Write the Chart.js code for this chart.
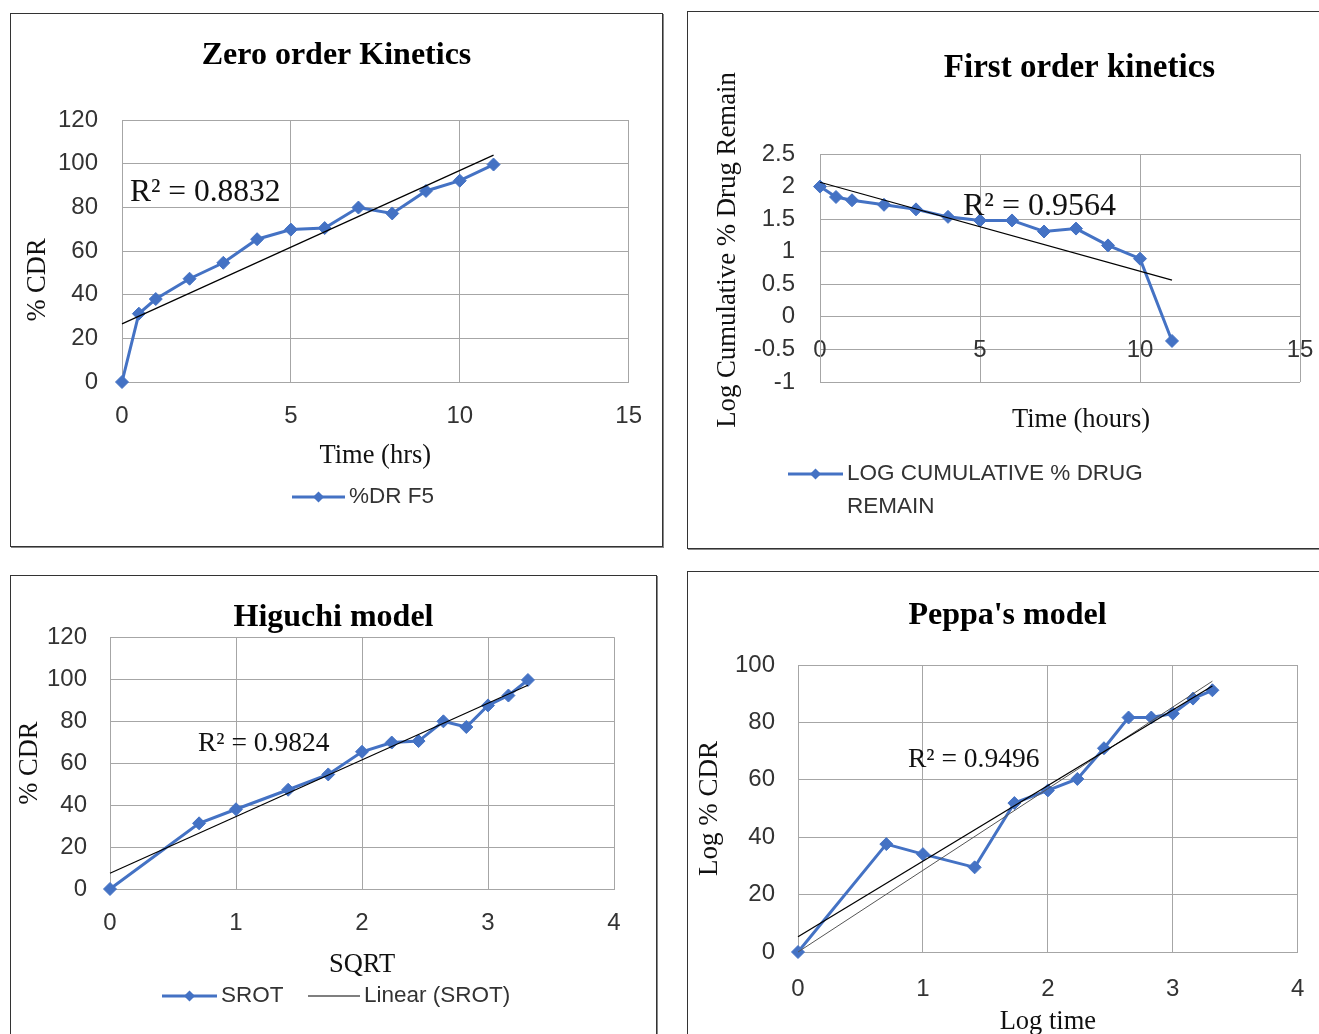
<!DOCTYPE html>
<html>
<head>
<meta charset="utf-8">
<title>Release kinetics F5</title>
<script src="https://cdn.jsdelivr.net/npm/chart.js@4.4.1/dist/chart.umd.min.js"></script>
<style>
  html, body { margin: 0; padding: 0; background: #fff; overflow: hidden; }
  body { position: relative; width: 1319px; height: 1034px; }
  .box { position: absolute; box-sizing: border-box; border: 1px solid #333; box-shadow: 1px 1px 0 #888; }
  canvas { position: absolute; }
</style>
</head>
<body>
<div class="box" style="left:10px;top:13px;width:653px;height:534px"></div>
<div class="box" style="left:687px;top:11px;width:800px;height:538px"></div>
<div class="box" style="left:10px;top:575px;width:647px;height:520px"></div>
<div class="box" style="left:687px;top:571px;width:800px;height:520px"></div>

<canvas id="zero" width="651" height="532" style="left:11px;top:14px"></canvas>
<canvas id="first" width="783" height="536" style="left:688px;top:12px"></canvas>
<canvas id="higuchi" width="645" height="500" style="left:11px;top:576px"></canvas>
<canvas id="peppas" width="639" height="500" style="left:688px;top:572px"></canvas>

<script>
// data (formulation F5)
const hours = [0, 0.5, 1, 2, 3, 4, 5, 6, 7, 8, 9, 10, 11];
const cdr = [0, 31.3, 38, 47.3, 54.6, 65.4, 69.8, 70.5, 79.9, 77.2, 87.5, 92.2, 99.6];
const logRemain = [2.0, 1.84, 1.79, 1.72, 1.65, 1.535, 1.48, 1.48, 1.31, 1.355, 1.097, 0.893, -0.37];
const sqrtHours = [0, 0.707, 1, 1.414, 1.732, 2, 2.236, 2.449, 2.646, 2.828, 3, 3.162, 3.317];
const logCdr = [0, 37.6, 34.1, 29.5, 51.9, 56.3, 60.3, 71, 81.7, 81.7, 83.1, 88.3, 91.2];
const rSquared = ['R\u00b2 = 0.8832', 'R\u00b2 = 0.9564', 'R\u00b2 = 0.9824', 'R\u00b2 = 0.9496'];

// axis ranges [min, max, step]
const timeRange = [0, 15, 5];
const cdrRange = [0, 120, 20];
const logRange = [-1, 2.5, 0.5];
const sqrtRange = [0, 4, 1];
const peppasRange = [0, 100, 20];

const SERIF = 'Liberation Serif';
const SANS = 'Liberation Sans';
const BLUE = '#4472C4';
const GRID = '#a6a6a6';

function pts(xs, ys) {
    return xs.map((x, i) => ({x: x, y: ys[i]}));
}

// least squares trendline over the x range of the data, like Excel does
function trend(xs, ys, throughOrigin) {
    const n = xs.length;
    let m, b;
    if (throughOrigin) {
        let sxy = 0, sxx = 0;
        xs.forEach((x, i) => { sxy += x * ys[i]; sxx += x * x; });
        m = sxy / sxx;
        b = 0;
    } else {
        const mx = xs.reduce((a, v) => a + v, 0) / n;
        const my = ys.reduce((a, v) => a + v, 0) / n;
        let sxy = 0, sxx = 0;
        xs.forEach((x, i) => { sxy += (x - mx) * (ys[i] - my); sxx += (x - mx) * (x - mx); });
        m = sxy / sxx;
        b = my - m * mx;
    }
    const x0 = Math.min(...xs), x1 = Math.max(...xs);
    return [{x: x0, y: m * x0 + b}, {x: x1, y: m * x1 + b}];
}

function seriesDs(label, xs, ys) {
    return {
        label: label, data: pts(xs, ys), showLine: true,
        borderColor: BLUE, backgroundColor: BLUE, borderWidth: 3,
        pointStyle: 'rectRot', pointRadius: 6.5, pointHoverRadius: 6.5, pointBorderWidth: 1,
        tension: 0, clip: false, order: 2
    };
}

function trendDs(label, line, color, width) {
    return {
        label: label, data: line, showLine: true,
        borderColor: color, backgroundColor: color, borderWidth: width,
        pointRadius: 0, pointHoverRadius: 0, tension: 0, clip: false, order: 1
    };
}

function linAxis(range, pad) {
    return {
        type: 'linear', min: range[0], max: range[1],
        ticks: {
            stepSize: range[2], padding: pad, color: '#333', maxRotation: 0,
            font: {family: SANS, size: 24},
            callback: v => String(v)
        },
        grid: {color: GRID, lineWidth: 1, drawTicks: false},
        border: {color: GRID, width: 1}
    };
}

function axisTitle(text, size, top, bottom) {
    return {display: true, text: text, color: '#111', font: {family: SERIF, size: size}, padding: {top: top, bottom: bottom}};
}

function chartTitle(text, size, top, bottom) {
    return {display: true, text: text, color: '#000', font: {family: SERIF, size: size, weight: 'bold'}, padding: {top: top, bottom: bottom}};
}

// free text (R² labels, off-centre axis titles)
function notes(items) {
    return {
        id: 'notes',
        afterDraw(chart) {
            const ctx = chart.ctx;
            items.forEach(n => {
                ctx.save();
                ctx.font = n.font;
                ctx.fillStyle = '#111';
                ctx.textAlign = n.align || 'left';
                ctx.textBaseline = 'middle';
                ctx.translate(n.x, n.y);
                if (n.rotate) ctx.rotate(n.rotate);
                ctx.fillText(n.text, 0, 0);
                ctx.restore();
            });
        }
    };
}

// excel style legend: line sample with marker, text can wrap
function xlLegend(cfg) {
    return {
        id: 'xlLegend',
        afterDraw(chart) {
            const ctx = chart.ctx;
            ctx.save();
            ctx.font = '22.5px "' + SANS + '"';
            ctx.textBaseline = 'middle';
            cfg.items.forEach(it => {
                const ds = chart.data.datasets[it.ds];
                const y = cfg.y;
                ctx.strokeStyle = ds.borderColor;
                ctx.lineWidth = ds.borderWidth;
                ctx.beginPath();
                ctx.moveTo(it.x, y);
                ctx.lineTo(it.x + it.len, y);
                ctx.stroke();
                if (ds.pointRadius) {
                    const cx = it.x + it.len / 2, r = 5.5;
                    ctx.fillStyle = ds.backgroundColor;
                    ctx.beginPath();
                    ctx.moveTo(cx - r, y); ctx.lineTo(cx, y - r);
                    ctx.lineTo(cx + r, y); ctx.lineTo(cx, y + r);
                    ctx.closePath();
                    ctx.fill();
                }
                ctx.fillStyle = '#333';
                const lines = it.lines || [ds.label];
                lines.forEach((t, i) => ctx.fillText(t, it.x + it.len + 4, y + i * (cfg.lineHeight || 0)));
            });
            ctx.restore();
        }
    };
}

const baseOpts = {
    responsive: false,
    animation: false,
    events: []
};

// Zero order
new Chart(document.getElementById('zero'), {
    type: 'scatter',
    data: {
        datasets: [
            seriesDs('%DR F5', hours, cdr),
            trendDs('Linear (%DR F5)', trend(hours, cdr), '#000', 1.2)
        ]
    },
    options: Object.assign({}, baseOpts, {
        layout: {padding: {bottom: 74}},
        plugins: {
            legend: {display: false},
            tooltip: {enabled: false},
            title: chartTitle('Zero order Kinetics', 32, 23, 44.6)
        },
        scales: {
            x: Object.assign(linAxis(timeRange, 20), {
                title: axisTitle('Time (hrs)', 26.5, 0, 0),
                afterFit: s => { s.height = 90; }
            }),
            y: Object.assign(linAxis(cdrRange, 24), {
                afterFit: s => { s.width = 111; s.paddingRight = 30; }
            })
        }
    }),
    plugins: [
        notes([
            {text: '% CDR', x: 27, y: 266, font: '26.5px "' + SERIF + '"', align: 'center', rotate: -Math.PI / 2},
            {text: rSquared[0], x: 119, y: 179, font: '31.5px "' + SERIF + '"'}
        ]),
        xlLegend({y: 483, items: [{ds: 0, x: 281, len: 53}]})
    ]
});

// First order
new Chart(document.getElementById('first'), {
    type: 'scatter',
    data: {
        datasets: [
            seriesDs('LOG CUMULATIVE % DRUG REMAIN', hours, logRemain),
            trendDs('Linear', trend(hours, logRemain), '#000', 1.2)
        ]
    },
    options: Object.assign({}, baseOpts, {
        layout: {padding: {bottom: 166}},
        plugins: {
            legend: {display: false},
            tooltip: {enabled: false},
            title: chartTitle('First order kinetics', 33, 36.2, 66.2)
        },
        scales: {
            x: Object.assign(linAxis(timeRange, 19), {position: {y: 0}}),
            y: Object.assign(linAxis(logRange, 25), {
                afterFit: s => { s.width = 132; s.paddingRight = 171; }
            })
        }
    }),
    plugins: [
        notes([
            {text: 'Log Cumulative % Drug Remain', x: 40, y: 238, font: '26.8px "' + SERIF + '"', align: 'center', rotate: -Math.PI / 2},
            {text: 'Time (hours)', x: 393, y: 408, font: '26.5px "' + SERIF + '"', align: 'center'},
            {text: rSquared[1], x: 275, y: 195, font: '32px "' + SERIF + '"'}
        ]),
        xlLegend({y: 462, lineHeight: 33, items: [{ds: 0, x: 100, len: 55, lines: ['LOG CUMULATIVE % DRUG', 'REMAIN']}]})
    ]
});

// Higuchi
new Chart(document.getElementById('higuchi'), {
    type: 'scatter',
    data: {
        datasets: [
            seriesDs('SROT', sqrtHours, cdr),
            trendDs('Linear (SROT)', trend(sqrtHours, cdr), '#000', 1.2)
        ]
    },
    options: Object.assign({}, baseOpts, {
        layout: {padding: {bottom: 95}},
        plugins: {
            legend: {display: false},
            tooltip: {enabled: false},
            title: chartTitle('Higuchi model', 32, 22.8, 0)
        },
        scales: {
            x: Object.assign(linAxis(sqrtRange, 19.6), {
                title: axisTitle('SQRT', 26.5, 0, 0),
                afterFit: s => { s.height = 92; }
            }),
            y: Object.assign(linAxis(cdrRange, 23), {
                title: axisTitle('% CDR', 26.5, 3.1, 0),
                afterFit: s => { s.width = 99; s.paddingRight = 42; }
            })
        }
    }),
    plugins: [
        notes([
            {text: rSquared[2], x: 187, y: 168, font: '27.5px "' + SERIF + '"'}
        ]),
        xlLegend({y: 420, items: [{ds: 0, x: 151, len: 55}, {ds: 1, x: 297, len: 52}]})
    ]
});

// Peppas
new Chart(document.getElementById('peppas'), {
    type: 'scatter',
    data: {
        datasets: [
            seriesDs('Log % CDR', sqrtHours, logCdr),
            trendDs('Linear', trend(sqrtHours, logCdr), '#000', 1.3),
            trendDs('Linear (0 intercept)', trend(sqrtHours, logCdr, true), '#555', 1)
        ]
    },
    options: Object.assign({}, baseOpts, {
        layout: {padding: {bottom: 30}},
        plugins: {
            legend: {display: false},
            tooltip: {enabled: false},
            title: chartTitle("Peppa's model", 32, 24.8, 29.8)
        },
        scales: {
            x: Object.assign(linAxis(sqrtRange, 22.6), {
                title: axisTitle('Log time', 26.5, 0, 4),
                afterFit: s => { s.height = 90; }
            }),
            y: Object.assign(linAxis(peppasRange, 23), {
                title: axisTitle('Log % CDR', 27, 5.8, 0),
                afterFit: s => { s.width = 110; s.paddingRight = 25; }
            })
        }
    }),
    plugins: [
        notes([
            {text: rSquared[3], x: 220, y: 188, font: '27.5px "' + SERIF + '"'}
        ])
    ]
});
</script>
</body>
</html>
